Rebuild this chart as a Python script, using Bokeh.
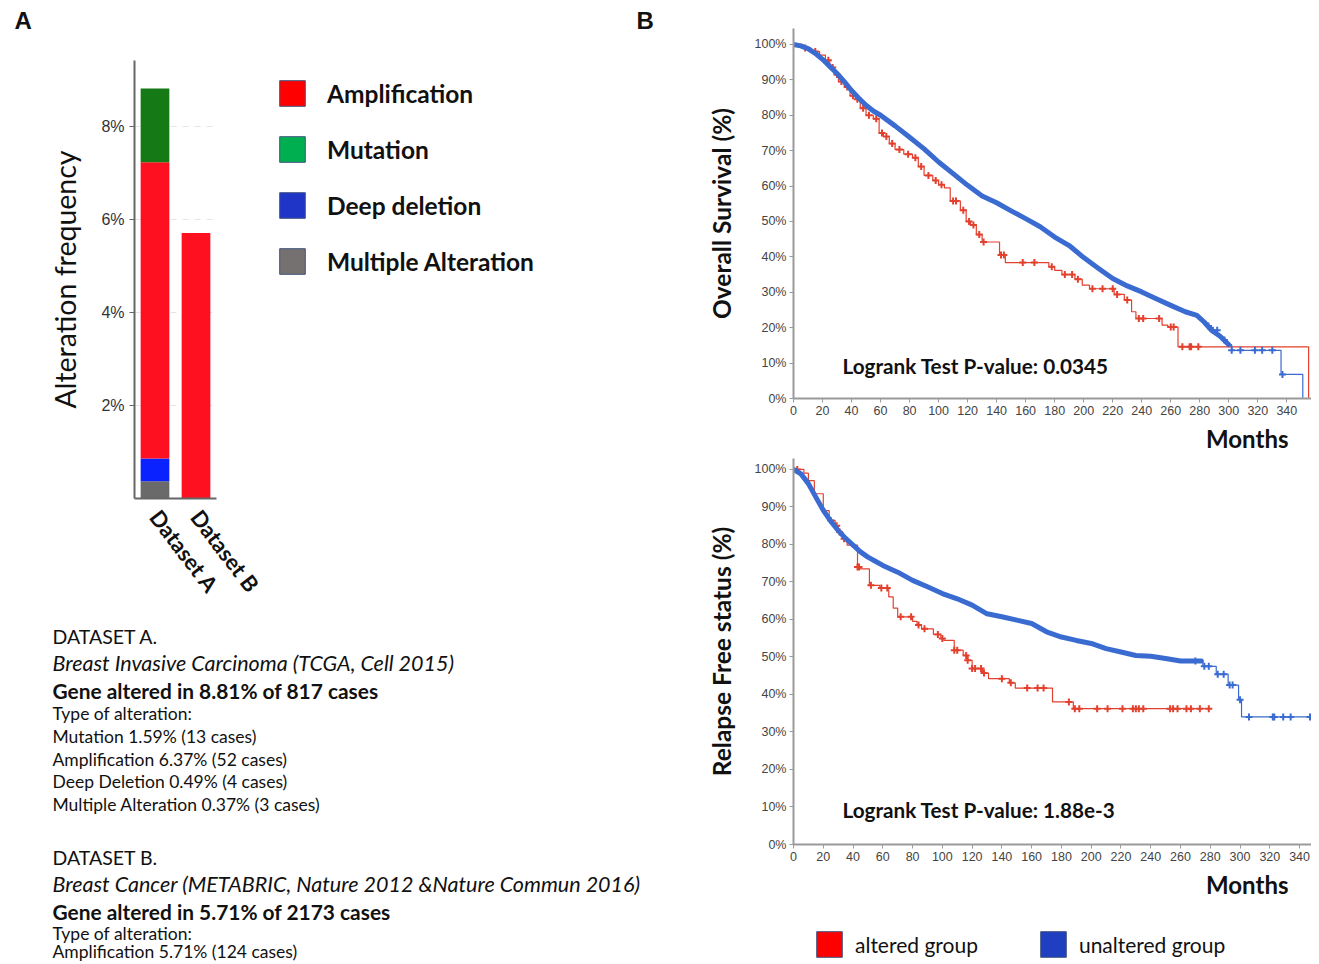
from bokeh.plotting import figure
from bokeh.layouts import row, column, Spacer
from bokeh.models import (Range1d, FixedTicker, PrintfTickFormatter, Label, Title,
                          Legend, LegendItem, ColumnDataSource)
from bokeh.embed import file_html
from bokeh.resources import INLINE

NAN = float("nan")

# ---------------- data: panel A (alteration frequency, %) ----------------
categories = ["Dataset A", "Dataset B"]
multiple_pct = [0.37, 0.0]
deep_pct = [0.49, 0.0]
amp_pct = [6.37, 5.71]
mut_pct = [1.59, 0.0]
bar_ticks = [2, 4, 6, 8]
legend_a_labels = ["Amplification", "Mutation", "Deep deletion", "Multiple Alteration"]

text_dataset_a = ["DATASET A.",
                  "Breast Invasive Carcinoma (TCGA, Cell 2015)",
                  "Gene altered in 8.81% of 817 cases",
                  "Type of alteration:",
                  "Mutation 1.59% (13 cases)",
                  "Amplification 6.37% (52 cases)",
                  "Deep Deletion 0.49% (4 cases)",
                  "Multiple Alteration 0.37% (3 cases)"]
text_dataset_b = ["DATASET B.",
                  "Breast Cancer (METABRIC, Nature 2012 &Nature Commun 2016)",
                  "Gene altered in 5.71% of 2173 cases",
                  "Type of alteration:",
                  "Amplification 5.71% (124 cases)"]

# ---------------- data: panel B (Kaplan-Meier, months / %) ----------------
month_ticks = [0, 20, 40, 60, 80, 100, 120, 140, 160, 180, 200, 220, 240, 260, 280, 300, 320, 340]
pct_ticks = [0, 10, 20, 30, 40, 50, 60, 70, 80, 90, 100]

# Overall survival - altered group (step curve)
os_alt_t = [0, 6, 12, 18, 22, 25, 28, 31, 35, 39, 43, 46, 50, 55, 59, 62, 66, 70, 76, 82, 86, 90,
            96, 100, 104, 108, 115, 119, 122, 126, 130, 142, 146, 176, 180, 185, 194, 199, 204, 221,
            228, 233, 236, 254, 258, 265, 355]
os_alt_s = [100, 99, 98, 97, 95.5, 93.5, 91.5, 89.5, 88, 85.5, 84.5, 82, 80, 79, 75, 74, 72, 70.3,
            69, 68, 65.5, 63, 61.6, 60.4, 59.5, 55.8, 53.2, 50, 49, 46.3, 44.2, 40.5, 38.4, 37.2,
            36.2, 35, 33.7, 32, 31, 29.4, 27.8, 24.5, 22.6, 20.7, 20.2, 14.6, 0]
os_alt_cens_t = [8, 15, 24, 27, 30, 33, 37, 41, 44, 48, 52, 57, 61, 64, 68, 73, 79, 84, 88, 93, 98,
                 102, 110, 112, 117, 121, 124, 128, 131, 143, 145, 158, 166, 178, 187, 192, 196, 206,
                 213, 220, 223, 230, 238, 241, 252, 260, 262, 268, 273, 274, 279]
os_alt_cens_s = [99, 98, 95.5, 93.5, 91.5, 89.5, 88, 85.5, 84.5, 82, 80, 79, 75, 74, 72, 70.3, 69,
                 68, 65.5, 63, 61.6, 60.4, 55.8, 55.8, 53.2, 50, 49, 46.3, 44.2, 40.5, 40.5, 38.4,
                 38.4, 37.2, 35, 35, 33.7, 31, 31, 31, 29.4, 27.8, 22.6, 22.6, 22.6, 20.2, 20.2,
                 14.6, 14.6, 14.6, 14.6]
# Overall survival - unaltered group (densely censored part, then sparse tail)
os_unalt_t = [0, 5, 10, 15, 20, 25, 30, 35, 40, 45, 50, 55, 60, 70, 80, 90, 100, 110, 120, 130, 140,
              150, 160, 170, 180, 190, 200, 210, 220, 230, 240, 250, 260, 270, 278, 283, 288, 294, 300]
os_unalt_s = [100, 99.6, 98.8, 97.5, 95.8, 93.8, 91.8, 89.5, 87, 84.8, 82.8, 81.2, 80, 77, 73.8, 70.5,
              66.8, 63.5, 60.2, 57.2, 55.3, 53, 50.8, 48.5, 45.6, 43.2, 39.8, 36.8, 33.9, 31.8, 30.1,
              28.2, 26.3, 24.5, 23.5, 21.6, 19.3, 17.6, 15.2]
os_unalt_tail_t = [300, 302, 336, 351]
os_unalt_tail_s = [15.2, 13.6, 6.8, 0]
os_unalt_cens_t = [286, 289, 292, 297, 302, 308, 318, 323, 330, 337]
os_unalt_cens_s = [20.5, 19.3, 19.3, 16.5, 13.6, 13.6, 13.6, 13.6, 13.6, 6.8]
os_pvalue = "Logrank Test P-value: 0.0345"

# Relapse free status - altered group
rfs_alt_t = [0, 7, 10, 14, 20, 24, 28, 30, 33, 36, 43, 45, 51, 58, 64, 67, 70, 80, 83, 86, 94, 99,
             101, 108, 114, 117, 120, 127, 131, 145, 149, 174, 188, 279]
rfs_alt_s = [100, 99, 97, 93.5, 89, 86.4, 85, 83.3, 81.5, 79.8, 74, 73.5, 69.1, 68.4, 66, 63, 60.7,
             59.5, 58.5, 57.5, 56, 54.9, 54.4, 51.8, 50.4, 49.1, 46.9, 45.7, 44.2, 43.1, 41.7, 38,
             36.2, 36.2]
rfs_alt_cens_t = [2.5, 25, 29, 31, 34, 43, 44, 52, 59, 63, 72, 79, 84, 88, 97, 100, 108, 110, 116,
                  117, 120, 122, 126, 128, 140, 146, 157, 164, 168, 185, 189, 192, 204, 211, 221,
                  228, 230, 232, 235, 253, 255, 258, 264, 267, 273, 279]
rfs_alt_cens_s = [100, 86.4, 85, 83.3, 81.5, 74, 74, 69.1, 68.4, 68.4, 60.7, 60.7, 58.5, 57.5, 56,
                  54.9, 51.8, 51.8, 50.4, 49.1, 46.9, 46.9, 46.9, 45.7, 44.2, 43.1, 41.7, 41.7, 41.7,
                  38, 36.2, 36.2, 36.2, 36.2, 36.2, 36.2, 36.2, 36.2, 36.2, 36.2, 36.2, 36.2, 36.2,
                  36.2, 36.2, 36.2]
# Relapse free status - unaltered group
rfs_unalt_t = [0, 5, 10, 15, 20, 25, 30, 35, 40, 45, 50, 55, 60, 70, 80, 90, 100, 110, 120, 130,
               140, 150, 160, 170, 180, 190, 200, 210, 220, 230, 240, 250, 260, 274]
rfs_unalt_s = [100, 98.8, 96.2, 92.6, 89.1, 86.2, 83.7, 81.6, 79.8, 78, 76.6, 75.5, 74.4, 72.6, 70.4,
               68.7, 66.9, 65.5, 63.8, 61.5, 60.7, 59.8, 58.9, 56.7, 55.3, 54.4, 53.6, 52.2, 51.3,
               50.4, 50.2, 49.6, 48.9, 48.9]
rfs_unalt_tail_t = [274, 275, 284, 292, 299, 301, 347]
rfs_unalt_tail_s = [48.9, 47.5, 45.4, 42.5, 38.6, 34, 34]
rfs_unalt_cens_t = [270, 276, 279, 285, 289, 293, 295, 300, 306, 322, 323, 329, 334, 347]
rfs_unalt_cens_s = [48.9, 47.5, 47.5, 45.4, 45.4, 42.5, 42.5, 38.6, 34, 34, 34, 34, 34, 34]
rfs_pvalue = "Logrank Test P-value: 1.88e-3"

group_labels = ["altered group", "unaltered group"]
x_axis_title = "Months"
panel_labels = ["A", "B"]

# ---------------- styles ----------------
BAR_COLORS = ["#6a6a6a", "#0a22ff", "#ff1020", "#157a16"]   # multiple, deep, amp, mutation
LEG_A_COLORS = ["#ff0000", "#00b050", "#1f35c8", "#767171"]
LEG_B_COLORS = ["#ff0000", "#1f3ec0"]
SWATCH_EDGE = "#41547f"
RED = "#e3402e"
BLUE = "#3a6bd1"
FONT = "Lato"
TXT = "#111111"


def blank(w, h):
    p = figure(width=w, height=h, x_range=Range1d(0, w), y_range=Range1d(h, 0),
               toolbar_location=None, output_backend="svg", min_border=0,
               x_axis_location=None, y_axis_location=None, outline_line_color=None)
    p.grid.visible = False
    return p


def legend_swatch(p, color):
    # legend-only renderer: one NaN row so the legend glyph is drawn but nothing in the plot
    return p.quad(left=[NAN], right=[NAN], top=[NAN], bottom=[NAN], fill_color=color,
                  line_color=SWATCH_EDGE, line_width=1)


# ---------------- header strip with panel letters ----------------
top_fig = blank(660, 40)
for lab, xpos in zip(panel_labels, [14, 636]):
    top_fig.add_layout(Label(x=xpos, y=20, text=lab, text_baseline="middle",
                             text_font="Liberation Sans", text_font_style="bold",
                             text_font_size="24px", text_color=TXT))

# ---------------- panel A ----------------
src = ColumnDataSource(dict(cat=categories, multi=multiple_pct, deep=deep_pct, amp=amp_pct, mut=mut_pct))
bar = figure(x_range=categories, y_range=Range1d(0, 9.42), width=270, height=582,
             toolbar_location=None, output_backend="svg", min_border_left=134, min_border_right=54,
             min_border_top=20, min_border_bottom=124, outline_line_color=None)
bar.vbar_stack(["multi", "deep", "amp", "mut"], x="cat", width=0.7, fill_color=BAR_COLORS,
               line_color=None, source=src)
bar.xgrid.visible = False
bar.ygrid.ticker = FixedTicker(ticks=bar_ticks)
bar.ygrid.grid_line_color = "#e4e4e4"
bar.ygrid.grid_line_dash = "6 6"
bar.yaxis.ticker = FixedTicker(ticks=bar_ticks)
bar.yaxis.formatter = PrintfTickFormatter(format="%d%%")
bar.yaxis.axis_label = "Alteration frequency"
bar.yaxis.axis_label_text_font = FONT
bar.yaxis.axis_label_text_font_style = "normal"
bar.yaxis.axis_label_text_font_size = "28.5px"
bar.yaxis.axis_label_text_color = TXT
bar.yaxis.axis_label_standoff = 16
bar.yaxis.major_label_text_font = "Liberation Sans"
bar.yaxis.major_label_text_font_size = "16px"
bar.yaxis.major_label_text_color = "#333333"
bar.yaxis.major_tick_out = 5
bar.yaxis.major_tick_in = 0
bar.yaxis.minor_tick_line_color = None
bar.axis.axis_line_color = "#666666"
bar.axis.axis_line_width = 2
bar.yaxis.major_tick_line_color = "#666666"
bar.xaxis.major_tick_line_color = None
bar.xaxis.major_label_orientation = -0.92
bar.xaxis.major_label_text_font = FONT
bar.xaxis.major_label_text_font_style = "bold"
bar.xaxis.major_label_text_font_size = "22px"
bar.xaxis.major_label_text_color = TXT
bar.xaxis.major_label_standoff = 8

leg_a = figure(width=390, height=582, x_range=Range1d(0, 1), y_range=Range1d(0, 1),
               toolbar_location=None, output_backend="svg", min_border_left=5, min_border_right=0,
               min_border_top=20, min_border_bottom=124, x_axis_location=None, y_axis_location=None,
               outline_line_color=None)
leg_a.grid.visible = False
items_a = [LegendItem(label=lab, renderers=[legend_swatch(leg_a, col)])
           for lab, col in zip(legend_a_labels, LEG_A_COLORS)]
leg_a.add_layout(Legend(items=items_a, location=(1, 221), orientation="vertical",
                        glyph_width=32, glyph_height=32, label_height=30, label_standoff=19,
                        spacing=24, padding=0, margin=0, border_line_color=None,
                        background_fill_alpha=0, label_text_font=FONT, label_text_font_style="bold",
                        label_text_font_size="24.5px", label_text_color=TXT))

txt = blank(660, 340)
styles = [("normal", "19.5px"), ("italic", "21.5px"), ("bold", "20.9px")] + [("normal", "17.5px")] * 5
ys_a = [14, 40, 68, 91, 114, 137, 159, 182]
ys_b = [235, 261, 289, 311, 329]
for lines, ys in ((text_dataset_a, ys_a), (text_dataset_b, ys_b)):
    for i, (t, y) in enumerate(zip(lines, ys)):
        st, sz = styles[i]
        txt.add_layout(Label(x=52, y=y, text=t, text_baseline="middle", text_font=FONT,
                             text_font_style=st, text_font_size=sz, text_color=TXT))

left_col = column(top_fig, row(bar, leg_a), txt)

# ---------------- panel B ----------------


def km_fig(height, xmax, ymax, top, bottom, ylabel):
    p = figure(width=611, height=height, x_range=Range1d(0, xmax), y_range=Range1d(0, ymax),
               toolbar_location=None, output_backend="svg", min_border_left=93, min_border_right=0,
               min_border_top=top, min_border_bottom=bottom, outline_line_color=None)
    p.grid.visible = False
    p.xaxis.ticker = FixedTicker(ticks=month_ticks)
    p.yaxis.ticker = FixedTicker(ticks=pct_ticks)
    p.yaxis.formatter = PrintfTickFormatter(format="%d%%")
    p.axis.major_label_text_font = "Liberation Sans"
    p.axis.major_label_text_font_size = "12.5px"
    p.axis.major_label_text_color = "#444444"
    p.axis.axis_line_color = "#9a9a9a"
    p.axis.axis_line_width = 2
    p.axis.major_tick_line_color = "#9a9a9a"
    p.axis.major_tick_out = 4
    p.axis.major_tick_in = 0
    p.axis.minor_tick_line_color = None
    p.axis.major_label_standoff = 3
    p.yaxis.axis_label = ylabel
    p.yaxis.axis_label_text_font = FONT
    p.yaxis.axis_label_text_font_style = "bold"
    p.yaxis.axis_label_text_font_size = "24.5px"
    p.yaxis.axis_label_text_color = TXT
    p.yaxis.axis_label_standoff = 16
    p.add_layout(Title(text=x_axis_title, align="right", offset=23, standoff=9,
                       text_font=FONT, text_font_style="bold", text_font_size="24px",
                       text_color=TXT), "below")
    return p


def draw_km(p, alt_t, alt_s, alt_ct, alt_cs, un_t, un_s, un_tt, un_ts, un_ct, un_cs):
    p.step(alt_t, alt_s, mode="after", line_color=RED, line_width=1.2)
    p.scatter(alt_ct, alt_cs, marker="cross", size=7, line_color=RED, line_width=2)
    p.line(un_t, un_s, line_color=BLUE, line_width=5, line_join="round", line_cap="round")
    p.step(un_tt, un_ts, mode="after", line_color=BLUE, line_width=1.2)
    p.scatter(un_ct, un_cs, marker="cross", size=7, line_color=BLUE, line_width=2)


km1 = km_fig(458, 357, 104.5, 28, 60, "Overall Survival (%)")
draw_km(km1, os_alt_t, os_alt_s, os_alt_cens_t, os_alt_cens_s, os_unalt_t, os_unalt_s,
        os_unalt_tail_t, os_unalt_tail_s, os_unalt_cens_t, os_unalt_cens_s)
km1.add_layout(Label(x=33.8, y=9.3, text=os_pvalue, text_baseline="middle", text_font=FONT,
                     text_font_style="bold", text_font_size="20.7px", text_color=TXT))

km2 = km_fig(446, 348, 102.9, 0, 60, "Relapse Free status (%)")
draw_km(km2, rfs_alt_t, rfs_alt_s, rfs_alt_cens_t, rfs_alt_cens_s, rfs_unalt_t, rfs_unalt_s,
        rfs_unalt_tail_t, rfs_unalt_tail_s, rfs_unalt_cens_t, rfs_unalt_cens_s)
km2.add_layout(Label(x=32.9, y=9.3, text=rfs_pvalue, text_baseline="middle", text_font=FONT,
                     text_font_style="bold", text_font_size="20.7px", text_color=TXT))

leg_b = figure(width=611, height=58, x_range=Range1d(0, 1), y_range=Range1d(0, 1),
               toolbar_location=None, output_backend="svg", min_border_left=93, min_border_top=0,
               min_border_right=0, min_border_bottom=0, x_axis_location=None, y_axis_location=None,
               outline_line_color=None)
leg_b.grid.visible = False
items_b = [LegendItem(label=lab, renderers=[legend_swatch(leg_b, col)])
           for lab, col in zip(group_labels, LEG_B_COLORS)]
leg_b.add_layout(Legend(items=items_b, location=(20, 2), orientation="horizontal",
                        glyph_width=32, glyph_height=32, label_height=28, label_standoff=10,
                        spacing=59, padding=0, margin=0, border_line_color=None,
                        background_fill_alpha=0, label_text_font=FONT, label_text_font_style="normal",
                        label_text_font_size="21px", label_text_color=TXT))

right_col = row(Spacer(width=40, height=962), column(km1, km2, leg_b))

layout = row(left_col, right_col)
open("out.html", "w").write(file_html(layout, INLINE))
